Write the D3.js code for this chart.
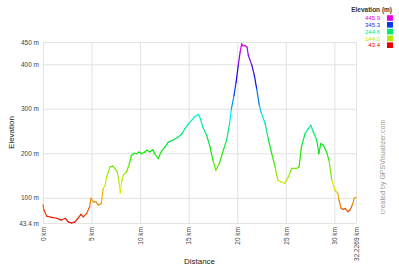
<!DOCTYPE html>
<html>
<head>
<meta charset="utf-8">
<script src="https://cdn.jsdelivr.net/npm/d3@7"></script>
<style>
  body { margin: 0; background: #fff; }
  svg { display: block; font-family: "Liberation Sans", Arial, sans-serif; }
  .grid line { stroke: #e2e2e2; stroke-width: 1; }
  .tick text { fill: #444; font-size: 6.5px; }
</style>
</head>
<body>
<script>
// distance along the track (km) and elevation (m)
var distances = [0, 0.1, 0.38, 0.9, 1.4, 1.9, 2.3, 2.6, 2.95, 3.3, 3.6, 3.9, 4.15, 4.5, 4.8, 4.95,
    5.2, 5.45, 5.7, 6.0, 6.2, 6.4, 6.55, 6.9, 7.2, 7.4, 7.65, 7.85, 7.96, 8.1, 8.27, 8.6, 8.9,
    9.1, 9.4, 9.65, 9.9, 10.15, 10.5, 10.7, 11.0, 11.3, 11.5, 11.87, 12.2, 12.56, 12.9, 13.4,
    13.9, 14.3, 14.6, 14.96, 15.3, 15.6, 15.8, 16.0, 16.2, 16.45, 16.86, 17.2, 17.5, 17.8,
    18.15, 18.57, 18.9, 19.2, 19.4, 19.67, 19.88, 20.1, 20.3, 20.46, 20.6, 20.8, 21.0, 21.14,
    21.5, 21.76, 22.0, 22.27, 22.5, 22.86, 23.2, 23.55, 23.9, 24.17, 24.5, 24.9, 25.26, 25.6,
    26.1, 26.36, 26.6, 26.98, 27.3, 27.57, 27.84, 28.19, 28.4, 28.6, 28.87, 29.2, 29.45,
    29.73, 30.07, 30.35, 30.48, 30.7, 30.93, 31.1, 31.4, 31.6, 31.85, 32.05, 32.2269];
var elevations = [84, 72, 59, 56, 54, 50, 54, 46, 43.4, 46, 54, 63, 57, 65, 80, 99,
    91, 91, 84, 87, 121, 128, 147, 169, 171, 166, 158, 132, 111, 136, 151, 158, 177,
    195, 200, 199, 203, 199, 203, 207, 203, 208, 199, 188, 205, 214, 225, 230,
    236, 244, 255, 266, 274, 281, 285, 287, 278, 259, 240, 214, 184, 162,
    177, 207, 229, 265, 300, 330, 360, 397, 428, 445.9, 441, 442, 439, 420,
    398, 375, 345, 308, 289, 268, 231, 199, 169, 140, 136, 132, 147, 166,
    166, 169, 214, 244, 255, 263, 248, 229, 199, 222, 218, 203, 184,
    140, 117, 110, 95, 76, 74, 76, 69, 72, 84, 99, 101];

var yTicks = [43.4, 100, 200, 300, 400, 450];
var xTicks = [0, 5, 10, 15, 20, 25, 30, 32.2269];
var legendValues = [445.9, 345.3, 244.6, 144.0, 43.4];

var W = 399, H = 266;
var margin = { top: 42, right: 43, bottom: 43, left: 43 };
var plotW = W - margin.left - margin.right,
    plotH = H - margin.top - margin.bottom;

var x = d3.scaleLinear().domain([0, 32.2269]).range([0, plotW]);
var y = d3.scaleLinear().domain([43.4, 450]).range([plotH, 0]);

// hue runs red -> magenta from lowest to highest point
var hue = d3.scaleLinear().domain([43.4, 445.9]).range([0, 300]);
function colorFor(e) { return d3.hsl(hue(e), 1, 0.46).toString(); }

var svg = d3.select('body').append('svg').attr('width', W).attr('height', H);
var g = svg.append('g').attr('transform', translation(margin.left, margin.top));

// axes with gridlines
g.append('g')
    .attr('class', 'grid')
    .call(d3.axisLeft(y).tickValues(yTicks).tickSizeInner(-plotW).tickSizeOuter(0)
        .tickPadding(4).tickFormat(function (d) { return d + ' m'; }))
    .call(function (a) { a.select('.domain').remove(); });

var xa = g.append('g')
    .attr('class', 'grid')
    .attr('transform', translation(0, plotH))
    .call(d3.axisBottom(x).tickValues(xTicks).tickSizeInner(-plotH).tickSizeOuter(0)
        .tickFormat(function (d) { return d + ' km'; }));
xa.select('.domain').remove();
xa.selectAll('text')
    .attr('transform', 'rotate(-90)')
    .attr('x', -4)
    .attr('y', 0)
    .attr('dy', '0.35em')
    .style('text-anchor', 'end');

// elevation line, one segment per pair of points so each gets its own colour
var pts = distances.map(function (d, i) { return [d, elevations[i]]; });
g.append('g')
    .selectAll('line')
    .data(d3.pairs(pts))
    .enter().append('line')
    .attr('x1', function (p) { return x(p[0][0]); })
    .attr('y1', function (p) { return y(p[0][1]); })
    .attr('x2', function (p) { return x(p[1][0]); })
    .attr('y2', function (p) { return y(p[1][1]); })
    .attr('stroke', function (p) { return colorFor((p[0][1] + p[1][1]) / 2); })
    .attr('stroke-width', 1.2)
    .attr('stroke-linecap', 'round');

// axis titles
svg.append('text')
    .attr('x', margin.left + plotW / 2).attr('y', 264)
    .attr('text-anchor', 'middle')
    .attr('font-size', '8px').attr('fill', '#222')
    .text('Distance');
svg.append('text')
    .attr('transform', translation(14, margin.top + plotH / 2) + ' rotate(-90)')
    .attr('text-anchor', 'middle')
    .attr('font-size', '8px').attr('fill', '#222')
    .text('Elevation');

// legend
var legend = svg.append('g');
legend.append('text')
    .attr('x', 392).attr('y', 12)
    .attr('text-anchor', 'end')
    .attr('font-size', '6.5px').attr('font-weight', 'bold').attr('fill', '#333')
    .text('Elevation (m)');
var rows = legend.selectAll('.row').data(legendValues).enter().append('g')
    .attr('transform', function (d, i) { return translation(0, 18 + i * 6.8); });
rows.append('text')
    .attr('x', 380).attr('dy', '0.35em')
    .attr('text-anchor', 'end')
    .attr('font-size', '6px')
    .attr('fill', function (d) { return colorFor(d); })
    .text(function (d) { return d.toFixed(1); });
rows.append('rect')
    .attr('x', 387).attr('y', -2.8).attr('width', 6).attr('height', 5.6)
    .attr('fill', function (d) { return colorFor(d); });

// credit
svg.append('text')
    .attr('transform', translation(385, 167) + ' rotate(-90)')
    .attr('text-anchor', 'middle')
    .attr('font-size', '7px').attr('fill', '#999')
    .text('created by GPSVisualizer.com');

function translation(x, y) {
    return 'translate(' + x + ',' + y + ')';
}
</script>
</body>
</html>
